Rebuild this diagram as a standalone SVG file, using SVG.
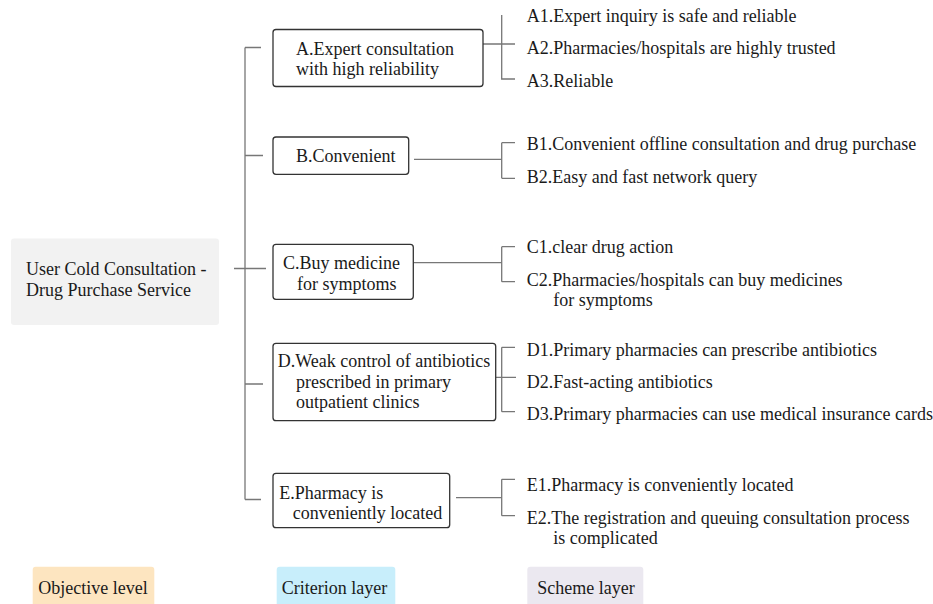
<svg xmlns="http://www.w3.org/2000/svg" width="933" height="604" viewBox="0 0 933 604">
<style>
text{font-family:"Liberation Serif","Times New Roman",serif;font-size:18px;fill:#1a1a1a}
.box{fill:#fff;stroke:#333;stroke-width:1.3}
.ln{fill:none;stroke:#777;stroke-width:1.3}
</style>
<rect width="933" height="604" fill="#fff"/>
<g id="objective">
<rect x="11" y="238.5" width="208" height="86.5" rx="3" fill="#f2f2f2"/>
<text x="26" y="275">User Cold Consultation -</text>
<text x="26" y="296">Drug Purchase Service</text>
</g>
<g id="connectors">
<path class="ln" d="M234 268.5H266M245 47.5V499.5M245 47.5H261M245 155.5H263M245 384H263M245 499.5H261"/>
<path class="ln" d="M483 44H515M501.7 15V79H515"/>
<path class="ln" d="M414 159.3H501.7M501.7 142.7V178.3M501.7 142.7H515M501.7 178.3H515"/>
<path class="ln" d="M413.3 262.7H501.7M501.7 246.7V281.7M501.7 246.7H515M501.7 281.7H515"/>
<path class="ln" d="M495.7 377.3H516M501.7 347.3V411.7M501.7 347.3H515M501.7 411.7H515"/>
<path class="ln" d="M456 497.7H501.7M501.7 479.3V515.7M501.7 479.3H515M501.7 515.7H515"/>
</g>
<g id="A">
<rect class="box" x="273" y="29.5" width="210" height="57" rx="3"/>
<text x="296" y="54.5">A.Expert consultation</text>
<text x="296" y="74.5">with high reliability</text>
</g>
<g id="B">
<rect class="box" x="273" y="137" width="135.7" height="37.3" rx="3"/>
<text x="296" y="162">B.Convenient</text>
</g>
<g id="C">
<rect class="box" x="273" y="244.3" width="140.3" height="55" rx="3"/>
<text x="283" y="268.5">C.Buy medicine</text>
<text x="297" y="289.5">for symptoms</text>
</g>
<g id="D">
<rect class="box" x="273" y="343.3" width="222.7" height="77.4" rx="3"/>
<text x="277.7" y="367">D.Weak control of antibiotics</text>
<text x="296" y="387.5">prescribed in primary</text>
<text x="296" y="408">outpatient clinics</text>
</g>
<g id="E">
<rect class="box" x="273" y="473.3" width="176.7" height="54.4" rx="3"/>
<text x="279.3" y="498.5">E.Pharmacy is</text>
<text x="292.7" y="519">conveniently located</text>
</g>
<g id="A1"><text x="526.7" y="21.7">A1.Expert inquiry is safe and reliable</text></g>
<g id="A2"><text x="526.7" y="53.5">A2.Pharmacies/hospitals are highly trusted</text></g>
<g id="A3"><text x="526.7" y="86.7">A3.Reliable</text></g>
<g id="B1"><text x="526.7" y="150">B1.Convenient offline consultation and drug purchase</text></g>
<g id="B2"><text x="526.7" y="183.3">B2.Easy and fast network query</text></g>
<g id="C1"><text x="526.7" y="252.7">C1.clear drug action</text></g>
<g id="C2"><text x="526.7" y="286">C2.Pharmacies/hospitals can buy medicines</text><text x="553.3" y="306">for symptoms</text></g>
<g id="D1"><text x="526.7" y="356">D1.Primary pharmacies can prescribe antibiotics</text></g>
<g id="D2"><text x="526.7" y="388.3">D2.Fast-acting antibiotics</text></g>
<g id="D3"><text x="526.7" y="420">D3.Primary pharmacies can use medical insurance cards</text></g>
<g id="E1"><text x="526.7" y="490.7">E1.Pharmacy is conveniently located</text></g>
<g id="E2"><text x="526.7" y="524">E2.The registration and queuing consultation process</text><text x="553.3" y="544">is complicated</text></g>
<g id="legend-objective">
<rect x="32.7" y="566.7" width="121.6" height="45" rx="3" fill="#fde5c0"/>
<text x="38.3" y="593.5">Objective level</text>
</g>
<g id="legend-criterion">
<rect x="276.7" y="566.7" width="118.6" height="45" rx="3" fill="#c8eefb"/>
<text x="281.7" y="593.5">Criterion layer</text>
</g>
<g id="legend-scheme">
<rect x="527.3" y="566.7" width="116" height="45" rx="3" fill="#ebe8f0"/>
<text x="537.3" y="594">Scheme layer</text>
</g>
</svg>
